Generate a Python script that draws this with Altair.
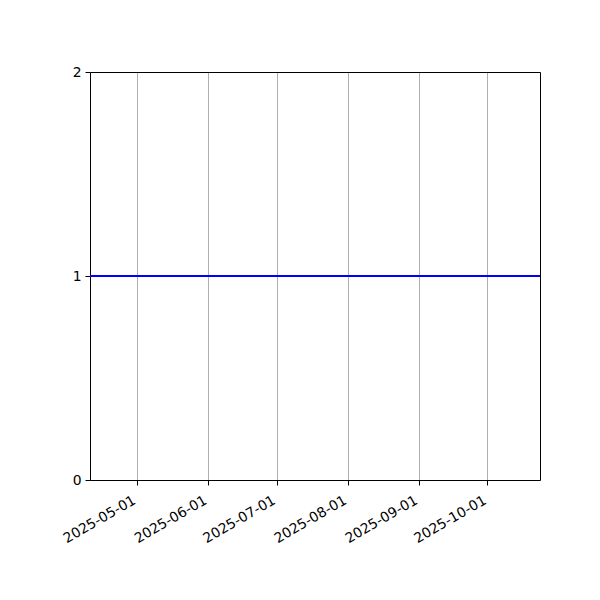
import altair as alt
import pandas as pd

dates = ["2025-04-10", "2025-05-15", "2025-06-20", "2025-07-25", "2025-08-30", "2025-10-05", "2025-10-24"]
values = [1, 1, 1, 1, 1, 1, 1]
tick_months = [5, 6, 7, 8, 9, 10]
y_ticks = [0, 1, 2]

df = pd.DataFrame({"date": dates, "value": values})

x_domain = [alt.DateTime(year=2025, month=4, date=10, hours=14, utc=True),
            alt.DateTime(year=2025, month=10, date=24, utc=True)]
x_ticks = [alt.DateTime(year=2025, month=m, date=1, utc=True) for m in tick_months]

x_scale = alt.Scale(type="utc", domain=x_domain, nice=False)
y_scale = alt.Scale(domain=[0, 2], nice=False, zero=False)

line = alt.Chart(df).mark_line(color="#0000ff", strokeWidth=2, clip=True).encode(
    x=alt.X("date:T", scale=x_scale,
            axis=alt.Axis(values=x_ticks, title=None,
                          labelExpr="utcFormat(datum.value, '%Y-%m-%d')",
                          labelAngle=-30, labelAlign="right", labelBaseline="top",
                          labelOverlap=False, labelFlush=False, labelOffset=-6,
                          grid=True, gridColor="#b0b0b0", gridWidth=1,
                          tickColor="black", tickSize=5, labelPadding=8,
                          domainColor="black", labelColor="black",
                          labelFont="DejaVu Sans", labelFontSize=13.9)),
    y=alt.Y("value:Q", scale=y_scale,
            axis=alt.Axis(values=y_ticks, title=None, grid=False,
                          labelExpr="format(datum.value, 'd')",
                          labelOverlap=False, labelFlush=False,
                          tickColor="black", tickSize=5, labelPadding=4,
                          domainColor="black", labelColor="black",
                          labelFont="DejaVu Sans", labelFontSize=13.9)),
)

frame = alt.Chart(df).mark_point(opacity=0).encode(
    x=alt.X("date:T", scale=x_scale,
            axis=alt.Axis(orient="top", labels=False, ticks=False, grid=False,
                          title=None, domainColor="black")),
    y=alt.Y("value:Q", scale=y_scale,
            axis=alt.Axis(orient="right", labels=False, ticks=False, grid=False,
                          title=None, domainColor="black")),
)

chart = alt.layer(line, frame).resolve_axis(x="independent", y="independent").properties(
    width=450, height=408,
    autosize=alt.AutoSizeParams(type="none"),
    padding={"left": 82, "top": 64, "right": 50, "bottom": 100},
).configure_view(stroke=None).configure(background="white")

chart.save("out.html", embed_options={"renderer": "svg", "actions": False})
